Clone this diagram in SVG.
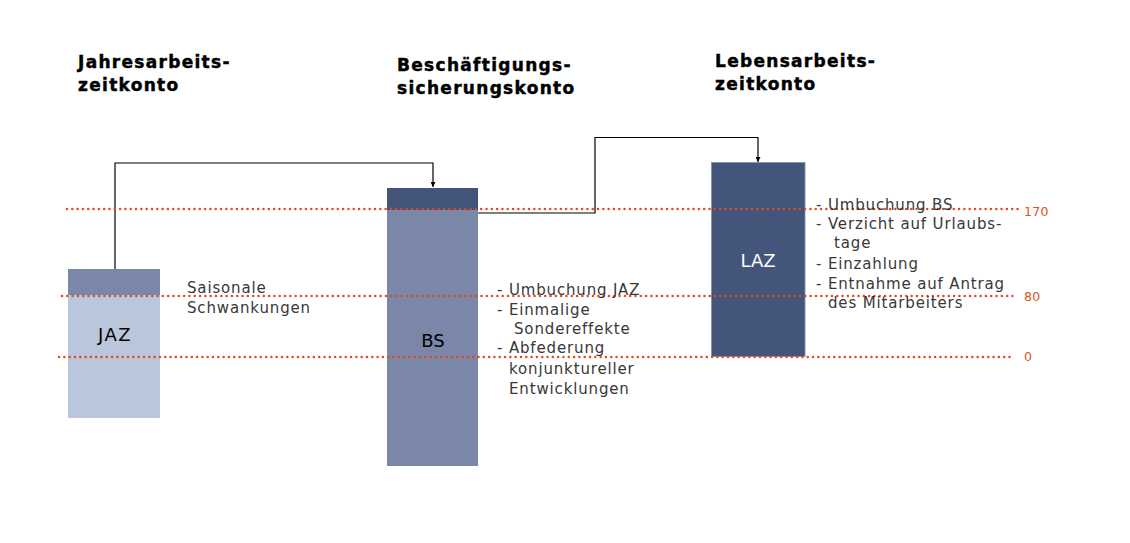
<svg xmlns="http://www.w3.org/2000/svg" width="1130" height="543" viewBox="0 0 1130 543">
<style>
.title{font-family:"DejaVu Sans",Verdana,sans-serif;font-weight:bold;font-size:17px;letter-spacing:1.3px;fill:#000;stroke:#000;stroke-width:0.45px}
.body{font-family:"DejaVu Sans",Verdana,sans-serif;font-size:15px;letter-spacing:0.85px;fill:#383838}
.lbl{font-family:"DejaVu Sans",Verdana,sans-serif;font-size:18px;text-anchor:middle}
.num{font-family:"DejaVu Sans",Verdana,sans-serif;font-size:12.5px;letter-spacing:0.3px;fill:#e0501e}
.dot{stroke:#e04a1a;stroke-width:2.5;stroke-linecap:round;stroke-dasharray:0.01 5.3;fill:none}
.conn{stroke:#000;stroke-width:1.2;fill:none}
</style>
<defs>
<marker id="arr" viewBox="0 0 10 10" refX="10" refY="5" markerWidth="5" markerHeight="5" orient="auto" markerUnits="userSpaceOnUse">
<path d="M0,0 L10,5 L0,10 z" fill="#000"/>
</marker>
</defs>
<rect width="1130" height="543" fill="#fff"/>
<g id="titles">
<text class="title" x="78" y="67.5">Jahresarbeits-</text>
<text class="title" x="78" y="90.5">zeitkonto</text>
<text class="title" x="397" y="71">Beschäftigungs-</text>
<text class="title" x="397" y="94">sicherungskonto</text>
<text class="title" x="715" y="67">Lebensarbeits-</text>
<text class="title" x="715" y="90">zeitkonto</text>
</g>
<g id="connectors">
<path class="conn" d="M115,269 V163 H433 V187" marker-end="url(#arr)"/>
<path class="conn" d="M478,213 H595 V137.5 H758 V162" marker-end="url(#arr)"/>
</g>
<g id="JAZ">
<rect x="68" y="269" width="92" height="149" fill="#bac6db"/>
<rect x="68" y="269" width="92" height="26" fill="#7a87a9"/>
<text class="lbl" x="115" y="341" fill="#000" letter-spacing="1.5">JAZ</text>
</g>
<g id="BS">
<rect x="387" y="188" width="91" height="278" fill="#7a87a9"/>
<rect x="387" y="188" width="91" height="22" fill="#43557a"/>
<text class="lbl" x="433" y="347" fill="#000">BS</text>
</g>
<g id="LAZ">
<rect x="711.5" y="162.5" width="93.5" height="194" fill="#43557a" stroke="#8090b0" stroke-width="0.8"/>
<text class="lbl" x="758" y="267" fill="#fff">LAZ</text>
</g>
<g id="levels">
<line class="dot" x1="67" y1="209" x2="1022" y2="209"/>
<line class="dot" x1="62" y1="296" x2="1016" y2="296"/>
<line class="dot" x1="59" y1="357" x2="1013" y2="357"/>
<text class="num" x="1024" y="216">170</text>
<text class="num" x="1024" y="301">80</text>
<text class="num" x="1024" y="361">0</text>
</g>
<g id="notes">
<text class="body" x="187" y="293">Saisonale</text>
<text class="body" x="187" y="313">Schwankungen</text>
<text class="body" x="497" y="295">- Umbuchung JAZ</text>
<text class="body" x="497" y="315">- Einmalige</text>
<text class="body" x="514" y="334">Sondereffekte</text>
<text class="body" x="497" y="353">- Abfederung</text>
<text class="body" x="509" y="374">konjunktureller</text>
<text class="body" x="509" y="394">Entwicklungen</text>
<text class="body" x="816" y="210">- Umbuchung BS</text>
<text class="body" x="816" y="229">- Verzicht auf Urlaubs-</text>
<text class="body" x="834" y="248">tage</text>
<text class="body" x="816" y="269">- Einzahlung</text>
<text class="body" x="816" y="289">- Entnahme auf Antrag</text>
<text class="body" x="828" y="308">des Mitarbeiters</text>
</g>
</svg>
